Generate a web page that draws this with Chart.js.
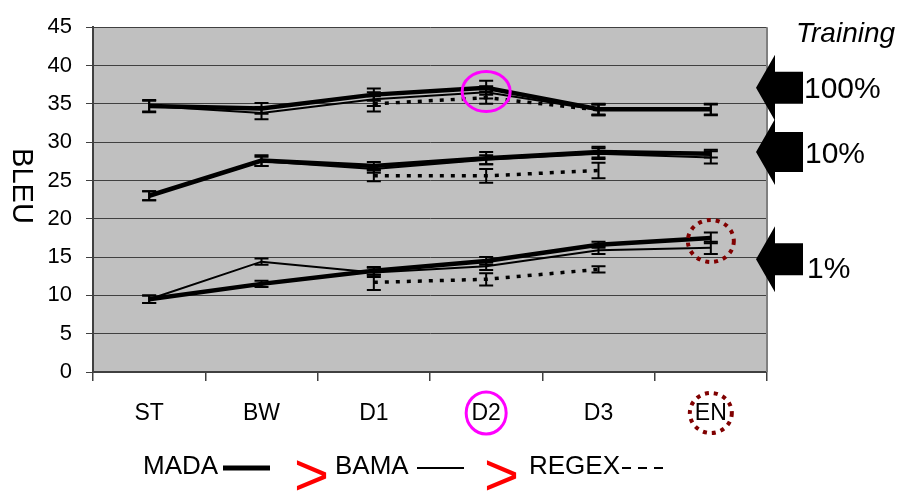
<!DOCTYPE html>
<html>
<head>
<meta charset="utf-8">
<script src="https://cdn.jsdelivr.net/npm/chart.js@4.4.1/dist/chart.umd.min.js"></script>
<style>
  html, body { margin: 0; padding: 0; background: #fff; }
  #wrap { width: 912px; height: 493px; }
</style>
</head>
<body>
<div id="wrap"><canvas id="myChart" width="912" height="493"></canvas></div>
<script>
const categories = ['ST', 'BW', 'D1', 'D2', 'D3', 'EN'];
const yTicks = [0, 5, 10, 15, 20, 25, 30, 35, 40, 45];

// 100% training
const mada100 = [34.7, 34.4, 36.2, 37.1, 34.3, 34.3];
const bama100 = [34.7, 33.8, 35.6, 36.5, 34.2, 34.2];
const regex100 = [null, null, 35.0, 35.8, 34.2, null];
const mada100Err = [0.8, 0.7, 0.8, 0.9, 0.7, 0.7];
const bama100Err = [0.7, 0.8, 0.9, 0.8, 0.7, 0.7];
const regex100Err = [null, null, 1.0, 0.8, 0.7, null];

// 10% training
const mada10 = [23.0, 27.6, 26.9, 27.9, 28.7, 28.5];
const bama10 = [23.0, 27.5, 26.5, 27.7, 28.5, 28.0];
const regex10 = [null, null, 25.6, 25.6, 26.3, null];
const mada10Err = [0.6, 0.7, 0.5, 0.8, 0.7, 0.5];
const bama10Err = [0.6, 0.6, 0.5, 0.6, 0.7, 0.8];
const regex10Err = [null, null, 0.7, 0.9, 1.0, null];

// 1% training
const mada1 = [9.5, 11.5, 13.2, 14.5, 16.6, 17.5];
const bama1 = [9.5, 14.4, 13.0, 13.8, 15.9, 16.2];
const regex1 = [null, null, 11.7, 12.1, 13.4, null];
const mada1Err = [0.5, 0.4, 0.5, 0.5, 0.4, 0.7];
const bama1Err = [0.5, 0.4, 0.6, 0.5, 0.5, 0.8];
const regex1Err = [null, null, 1.0, 0.8, 0.4, null];

const FONT = "'Liberation Sans', Arial, sans-serif";

const mada = (label, data, errors) => ({ label, data, errors, borderColor: '#000', borderWidth: 4.5 });
const bama = (label, data, errors) => ({ label, data, errors, borderColor: '#000', borderWidth: 2 });
const regex = (label, data, errors) => ({ label, data, errors, borderColor: '#000', borderWidth: 3.5, borderDash: [4, 7] });

const datasets = [
  regex('REGEX 100%', regex100, regex100Err),
  bama('BAMA 100%', bama100, bama100Err),
  mada('MADA 100%', mada100, mada100Err),
  regex('REGEX 10%', regex10, regex10Err),
  bama('BAMA 10%', bama10, bama10Err),
  mada('MADA 10%', mada10, mada10Err),
  regex('REGEX 1%', regex1, regex1Err),
  bama('BAMA 1%', bama1, bama1Err),
  mada('MADA 1%', mada1, mada1Err),
];

const plotBackground = {
  id: 'plotBackground',
  beforeDraw(chart) {
    const { ctx, chartArea: a } = chart;
    ctx.save();
    ctx.fillStyle = '#c0c0c0';
    ctx.fillRect(a.left, a.top, a.right - a.left, a.bottom - a.top);
    ctx.restore();
  },
  afterDraw(chart) {
    const { ctx, chartArea: a } = chart;
    ctx.save();
    ctx.strokeStyle = '#808080';
    ctx.lineWidth = 2;
    ctx.beginPath();
    ctx.moveTo(a.right, a.top);
    ctx.lineTo(a.right, a.bottom);
    ctx.stroke();
    ctx.restore();
  }
};

const errorBars = {
  id: 'errorBars',
  afterDatasetsDraw(chart) {
    const { ctx } = chart;
    const y = chart.scales.y;
    ctx.save();
    ctx.strokeStyle = '#000';
    ctx.lineWidth = 2;
    chart.data.datasets.forEach((ds, i) => {
      const meta = chart.getDatasetMeta(i);
      ds.errors.forEach((e, j) => {
        if (e == null || ds.data[j] == null) return;
        const x = meta.data[j].x;
        const top = y.getPixelForValue(ds.data[j] + e);
        const bot = y.getPixelForValue(ds.data[j] - e);
        ctx.beginPath();
        ctx.moveTo(x, top); ctx.lineTo(x, bot);
        ctx.moveTo(x - 7, top); ctx.lineTo(x + 7, top);
        ctx.moveTo(x - 7, bot); ctx.lineTo(x + 7, bot);
        ctx.stroke();
      });
    });
    ctx.restore();
  }
};

function ellipse(ctx, cx, cy, rx, ry) {
  ctx.beginPath();
  ctx.ellipse(cx, cy, rx, ry, 0, 0, Math.PI * 2);
  ctx.stroke();
}

function arrow(ctx, tipX, y0, shaft) {
  ctx.beginPath();
  ctx.moveTo(tipX, y0);
  ctx.lineTo(tipX + 19, y0 - 33);
  ctx.lineTo(tipX + 19, y0 - shaft);
  ctx.lineTo(tipX + 47, y0 - shaft);
  ctx.lineTo(tipX + 47, y0 + shaft);
  ctx.lineTo(tipX + 19, y0 + shaft);
  ctx.lineTo(tipX + 19, y0 + 33);
  ctx.closePath();
  ctx.fill();
}

const annotations = {
  id: 'annotations',
  afterDraw(chart) {
    const { ctx } = chart;
    const x = chart.scales.x, y = chart.scales.y;
    ctx.save();

    // y title
    ctx.fillStyle = '#000';
    ctx.font = '29px ' + FONT;
    ctx.textAlign = 'center';
    ctx.textBaseline = 'middle';
    ctx.save();
    ctx.translate(21, 186);
    ctx.rotate(Math.PI / 2);
    ctx.fillText('BLEU', 0, 0);
    ctx.restore();

    // training arrows
    ctx.textAlign = 'left';
    ctx.font = 'italic 28px ' + FONT;
    ctx.fillText('Training', 796, 34);
    arrow(ctx, 756, y.getPixelForValue(37.1), 16);
    arrow(ctx, 756, y.getPixelForValue(28.7), 20);
    arrow(ctx, 756, y.getPixelForValue(14.7), 16);
    ctx.font = '30px ' + FONT;
    ctx.fillText('100%', 804, 90);
    ctx.fillText('10%', 805, 155);
    ctx.fillText('1%', 807, 270);

    // highlight circles
    const d2 = x.getPixelForValue(3), en = x.getPixelForValue(5);
    const labelY = 413;
    ctx.strokeStyle = '#ff00ff';
    ctx.lineWidth = 3;
    ellipse(ctx, d2, y.getPixelForValue(36.6), 24, 20);
    ellipse(ctx, d2, labelY, 20, 21);
    ctx.strokeStyle = '#800000';
    ctx.lineWidth = 4;
    ctx.setLineDash([4, 5]);
    ellipse(ctx, en, y.getPixelForValue(17.1), 23, 21);
    ellipse(ctx, en, labelY, 21, 20);
    ctx.setLineDash([]);

    // legend
    const ly = 467;
    ctx.fillStyle = '#000';
    ctx.strokeStyle = '#000';
    ctx.font = '26px ' + FONT;
    ctx.textBaseline = 'middle';
    ctx.fillText('MADA', 143, ly);
    ctx.lineWidth = 5;
    ctx.beginPath(); ctx.moveTo(223, ly + 1); ctx.lineTo(270, ly + 1); ctx.stroke();
    ctx.fillText('BAMA', 335, ly);
    ctx.lineWidth = 2;
    ctx.beginPath(); ctx.moveTo(417, ly + 1); ctx.lineTo(464, ly + 1); ctx.stroke();
    ctx.fillText('REGEX', 529, ly);
    ctx.setLineDash([9, 7]);
    ctx.beginPath(); ctx.moveTo(622, ly + 1); ctx.lineTo(670, ly + 1); ctx.stroke();
    ctx.setLineDash([]);
    ctx.fillStyle = '#ff0000';
    ctx.font = '60px ' + FONT;
    ctx.fillText('>', 294, 478);
    ctx.fillText('>', 484, 478);

    ctx.restore();
  }
};

const ctx = document.getElementById('myChart');

const chart = new Chart(ctx, {
  type: 'line',
  data: { labels: categories, datasets },
  plugins: [plotBackground, errorBars, annotations],
  options: {
    responsive: false,
    animation: false,
    layout: { padding: { left: 0, right: 145, top: 24, bottom: 0 } },
    elements: {
      point: { radius: 0, hoverRadius: 0 },
      line: { tension: 0, fill: false, borderCapStyle: 'butt' },
    },
    plugins: {
      legend: { display: false },
      tooltip: { enabled: false },
    },
    scales: {
      x: {
        offset: true,
        grid: { offset: true, drawOnChartArea: false, color: '#404040', tickLength: 9, lineWidth: 1.5 },
        border: { color: '#404040', width: 2 },
        ticks: { color: '#000', font: { family: FONT, size: 23 }, padding: 19 },
        afterFit(scale) { scale.height = 121; },
      },
      y: {
        min: 0,
        max: 45,
        afterBuildTicks(scale) { scale.ticks = yTicks.map(v => ({ value: v })); },
        grid: { color: '#404040', tickLength: 7, lineWidth: 1 },
        border: { color: '#404040', width: 2 },
        ticks: { color: '#000', font: { family: FONT, size: 22 }, padding: 14 },
        afterFit(scale) { scale.width = 93; },
      },
    },
  },
});
</script>
</body>
</html>
